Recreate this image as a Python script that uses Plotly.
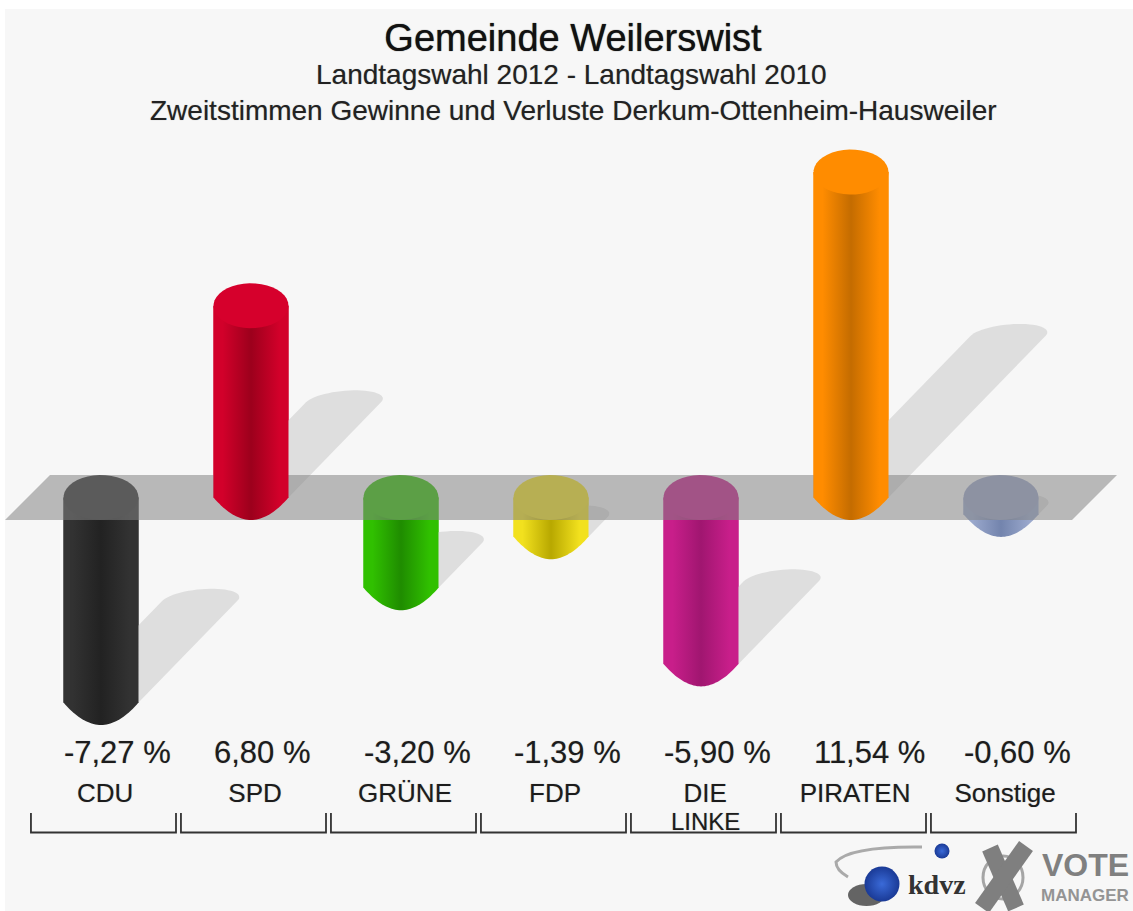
import numpy as np
import plotly.graph_objects as go

parties = ["CDU", "SPD", "GRÜNE", "FDP", "DIE", "PIRATEN", "Sonstige"]
values = [-7.27, 6.80, -3.20, -1.39, -5.90, 11.54, -0.60]
value_labels = ["-7,27 %", "6,80 %", "-3,20 %", "-1,39 %", "-5,90 %", "11,54 %", "-0,60 %"]
edge_colors = ["#323232", "#d2002a", "#30c000", "#f2e11e", "#c81e8a", "#ff8c00", "#9aa8cc"]
mid_colors = ["#222222", "#9c001c", "#1f8c00", "#b8a800", "#a01670", "#c46c00", "#7384ad"]
cap_colors = ["#2f2f2f", "#d6002c", "#30c000", "#f5e41e", "#c81e8a", "#ff8c00", "#9aa5c8"]

W, H = 1133, 911
PX_X0, PX_DX = 101.0, 150.0   # pixel centre of first bar, bar pitch
PX_Y0, PX_DY = 497.5, 28.2    # pixel of value 0, pixels per unit
HALF_W = 0.25
CAP_H = 22.5 / PX_DY
SHADOW_DX = 13.6 / PX_DX
SHADOW_DY = 14.0 / PX_DY
BLUR = "0 0 1px rgba(0,0,0,0.35)"
TEXT_FONT = "Liberation Sans"


def py(p):
    return (PX_Y0 - p) / PX_DY


def px(p):
    return (p - PX_X0) / PX_DX


def fx(p):
    return p / W


def fy(p):
    return 1 - p / H


def arc(cx, cy, n=40):
    t = np.linspace(0, 2 * np.pi, n)
    return cx + HALF_W * np.cos(t), cy + CAP_H * np.sin(t)


def body(cx, low, high):
    """Cylinder side: rounded lower end at `low`, straight up to `high`."""
    u = np.linspace(-1, 1, 41)
    xs = cx + HALF_W * u
    ys = low - CAP_H * (1 - np.abs(u) ** 1.95)
    return (np.r_[xs, cx + HALF_W, cx - HALF_W, cx - HALF_W],
            np.r_[ys, high, high, low])


def shadow(cx, y0, v):
    d, h = SHADOW_DX * abs(v), SHADOW_DY * abs(v)
    t = np.linspace(np.pi, 0, 30)
    ax = cx + d + HALF_W * np.cos(t) + 0.08 * np.sin(t)
    ay = y0 + h + (12 / PX_DY) * np.sin(t)
    return (np.r_[cx - HALF_W, ax, cx + HALF_W, cx - HALF_W],
            np.r_[y0, ay, y0, y0])


fig = go.Figure()
idx = list(range(len(parties)))


def patch(xs, ys, color=None, gradient=None):
    kw = dict(x=xs, y=ys, mode="none", fill="toself", hoverinfo="skip", showlegend=False)
    if gradient:
        kw["fillgradient"] = dict(type="horizontal", colorscale=gradient)
    else:
        kw["fillcolor"] = color
    fig.add_trace(go.Scatter(**kw))


def cylinder(i):
    v, e, m, c = values[i], edge_colors[i], mid_colors[i], cap_colors[i]
    grad = [[0, e], [0.12, e], [0.5, m], [0.88, e], [1, e]]
    low, high = (0, v) if v > 0 else (v, 0)
    patch(*body(i, low, high), gradient=grad)
    patch(*arc(i, high), color=c)


# value bars (flat base colour, refined by the gradient patches above them)
fig.add_trace(go.Bar(x=idx, y=values, width=2 * HALF_W, marker=dict(color=edge_colors, line_width=0),
                     hoverinfo="skip", showlegend=False))

# shadows
for i, v in enumerate(values):
    patch(*shadow(i, 0 if v > 0 else v, v), color="#dedede")

# falling bars sit under the slab
for i, v in enumerate(values):
    if v < 0:
        cylinder(i)

# translucent slab at the zero level
patch([px(5), px(50), px(1117), px(1072), px(5)],
      [py(520), py(475), py(475), py(520), py(520)], color="rgba(131,131,131,0.537)")

# rising bars stand on it
for i, v in enumerate(values):
    if v > 0:
        cylinder(i)

# percentage labels: left aligned just inside each bar's left edge
fig.add_trace(go.Scatter(x=[i - 0.247 for i in idx], y=[py(755)] * len(idx), mode="text",
                         text=value_labels, textposition="middle right",
                         textfont=dict(family=TEXT_FONT, size=31, color="#1c1c1c", shadow=BLUR),
                         hoverinfo="skip", showlegend=False))

# brackets
bx, by = [], []
for i in idx:
    bx += [i - 0.467, i - 0.467, i + 0.5, i + 0.5, None]
    by += [py(813), py(832.5), py(832.5), py(813), None]
fig.add_trace(go.Scatter(x=bx, y=by, mode="lines", line=dict(color="#333333", width=1.8),
                         hoverinfo="skip", showlegend=False))

shapes = [
    # page background
    dict(type="rect", xref="paper", yref="paper", x0=fx(5), x1=1, y0=0, y1=fy(9),
         fillcolor="#f7f7f7", line_width=0, layer="below"),
    # logo: swoosh
    dict(type="path", xref="paper", yref="paper", line=dict(color="#aaaaaa", width=3),
         path=f"M {fx(922)} {fy(847)} Q {fx(850)} {fy(846)} {fx(836)} {fy(862)} Q {fx(836)} {fy(870)} {fx(848)} {fy(877)}"),
    # logo: disc shadow
    dict(type="circle", xref="paper", yref="paper", x0=fx(848), x1=fx(885), y0=fy(906), y1=fy(884),
         fillcolor="#333333", opacity=0.75, line_width=0, layer="below"),
    # logo: ring and cross
    dict(type="circle", xref="paper", yref="paper", x0=fx(983), x1=fx(1023), y0=fy(899), y1=fy(856),
         fillcolor="rgba(0,0,0,0)", line=dict(color="#a5a5a5", width=3)),
    dict(type="line", xref="paper", yref="paper", x0=fx(990), y0=fy(848), x1=fx(1016), y1=fy(908),
         line=dict(color="#7f7f7f", width=17)),
    dict(type="line", xref="paper", yref="paper", x0=fx(1026), y0=fy(846), x1=fx(982), y1=fy(908),
         line=dict(color="#7f7f7f", width=17)),
]

# logo: spheres
fig.add_trace(go.Scatter(x=[px(882), px(942)], y=[py(884), py(851)], mode="markers",
                         marker=dict(size=[35, 15], color="#1a3a96", opacity=1,
                                     gradient=dict(type="radial", color="#3a6ad8"),
                                     line_width=0),
                         hoverinfo="skip", showlegend=False))

annotations = [
    dict(text="Landtagswahl 2012 - Landtagswahl 2010", x=fx(571), y=fy(75),
         font=dict(size=28, color="#222222", shadow=BLUR)),
    dict(text="Zweitstimmen Gewinne und Verluste Derkum-Ottenheim-Hausweiler", x=fx(573), y=fy(110),
         font=dict(size=28, color="#222222", shadow=BLUR)),
    dict(text="LINKE", x=px(705), y=py(821.5), xref="x", yref="y",
         font=dict(size=24, color="#1c1c1c", shadow=BLUR)),
    dict(text="<b>kdvz</b>", x=fx(937), y=fy(884), font=dict(family="Liberation Serif", size=28, color="#333333")),
    dict(text="<b>VOTE</b>", x=fx(1040), y=fy(865), xanchor="left", font=dict(size=32, color="#808080")),
    dict(text="<b>MANAGER</b>", x=fx(1039), y=fy(895), xanchor="left", font=dict(size=17, color="#949494")),
]
for a in annotations:
    a.setdefault("xref", "paper")
    a.setdefault("yref", "paper")
    a.update(showarrow=False, yanchor="middle")
    a.setdefault("xanchor", "center")

fig.update_layout(
    width=W, height=H, margin=dict(l=0, r=0, t=0, b=0),
    paper_bgcolor="#ffffff", plot_bgcolor="rgba(0,0,0,0)",
    font=dict(family=TEXT_FONT),
    showlegend=False,
    title=dict(text="Gemeinde Weilerswist", x=fx(573), y=fy(38), xanchor="center", yanchor="middle",
               font=dict(size=38, color="#111111", family=TEXT_FONT, shadow="0 0 1px rgba(0,0,0,0.8)")),
    xaxis=dict(range=[px(0), px(W)], tickmode="array", tickvals=[i + 0.027 for i in idx],
               ticktext=parties, ticks="", showgrid=False, zeroline=False, showline=False,
               anchor="free", position=(H - 775) / H,
               tickfont=dict(size=26, color="#1c1c1c", family=TEXT_FONT, shadow=BLUR)),
    yaxis=dict(range=[py(H), py(0)], visible=False),
    shapes=shapes, annotations=annotations,
)

fig.write_html("out.html", post_script="document.body.style.margin='0';", config={"displayModeBar": False})
